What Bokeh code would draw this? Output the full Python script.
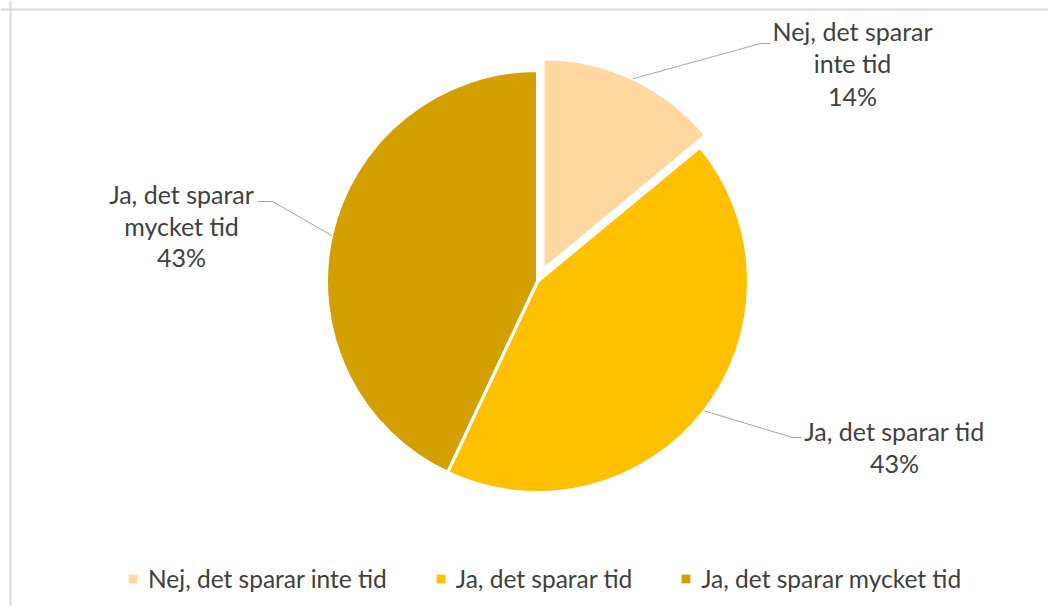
import numpy as np
from bokeh.plotting import figure
from bokeh.models import Range1d, Span, Legend, LegendItem, ColumnDataSource
from bokeh.core.properties import value
from bokeh.embed import file_html
from bokeh.resources import INLINE

# ---- data ----
categories = ["Nej, det sparar inte tid", "Ja, det sparar tid", "Ja, det sparar mycket tid"]
shares = [14, 43, 43]
colors = ["#FFD8A0", "#FFC000", "#D3A000"]
label_lines = [["Nej, det sparar", "inte tid"], ["Ja, det sparar tid"], ["Ja, det sparar", "mycket tid"]]

# ---- layout (picture px -> data coords, 1:1) ----
W, H = 1048, 606
def sx(x):
    return x
def sy(y):
    return H - y

cx, cy = sx(537), sy(281)
R = 211
explode = np.array([13.0, 0.0, 0.0])
bends = [(760, 43, 770), (792, 437, 801), (272, 201, 257)]
label_pos = [(852, [30, 62, 95]), (894, [430, 462]), (181, [193, 225, 256])]
FONT = "Lato"
FSIZE = "25px"
LSIZE = "24.5px"
TXT = "#404040"

frac = np.array(shares, dtype=float) / sum(shares)
cum = np.concatenate([[0.0], np.cumsum(frac)])
th0 = cum[:-1] * 2 * np.pi
th1 = cum[1:] * 2 * np.pi
mid = (th0 + th1) / 2
ox = cx + explode * np.sin(mid)
oy = cy + explode * np.cos(mid)

src = ColumnDataSource(dict(
    x=ox, y=oy,
    start=np.pi / 2 - th1, end=np.pi / 2 - th0,
    color=colors, cat=categories,
))

p = figure(width=W, height=H, x_range=Range1d(0, W), y_range=Range1d(0, H),
           output_backend="svg", toolbar_location=None, min_border=0)
p.axis.visible = False
p.grid.visible = False
p.outline_line_color = None
p.background_fill_color = "white"
p.border_fill_color = "white"

p.add_layout(Span(location=sx(10), dimension="height", line_color="#d9d9d9", line_width=2))
p.add_layout(Span(location=sy(9), dimension="width", line_color="#d9d9d9", line_width=2))

r_fill = p.wedge(x="x", y="y", radius=R, start_angle="start", end_angle="end",
                 fill_color="color", line_color=None, source=src)
p.wedge(x="x", y="y", radius=R, start_angle="start", end_angle="end",
        fill_color=None, line_color="white", line_width=3, source=src)

# leader lines and labels
for i in range(len(categories)):
    x0 = ox[i] + R * np.sin(mid[i])
    y0 = oy[i] + R * np.cos(mid[i])
    bx, by, ex = bends[i]
    p.line([x0, sx(bx), sx(ex)], [y0, sy(by), sy(by)], line_color="#a6a6a6", line_width=1)
    lx, ys = label_pos[i]
    lines = label_lines[i] + ["%d%%" % shares[i]]
    p.text(x=[sx(lx)] * len(lines), y=[sy(v) for v in ys], text=lines,
           text_font=value(FONT), text_font_size=FSIZE, text_color=TXT,
           text_align="center", text_baseline="middle")

legend = Legend(items=[LegendItem(label=categories[i], renderers=[r_fill], index=i) for i in range(3)],
                orientation="horizontal", location=(sx(127), sy(593)),
                label_text_font=FONT, label_text_font_size=LSIZE, label_text_color=TXT,
                glyph_width=11, glyph_height=11, label_standoff=10, spacing=48,
                padding=0, margin=0, border_line_color=None, background_fill_alpha=0)
p.add_layout(legend, "center")

open("out.html", "w").write(file_html(p, INLINE))
